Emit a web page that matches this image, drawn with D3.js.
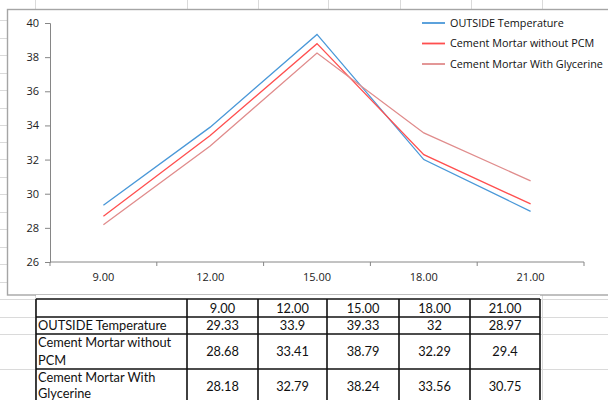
<!DOCTYPE html>
<html>
<head>
<meta charset="utf-8">
<script src="https://cdn.jsdelivr.net/npm/d3@7"></script>
<style>
  html, body { margin: 0; padding: 0; background: #fff; }
  svg { display: block; }
  text { font-family: "Open Sans", Lato, sans-serif; }
</style>
</head>
<body>
<svg id="chart" width="608" height="400"></svg>
<script>
// ---- data ----
const categories = ["9.00", "12.00", "15.00", "18.00", "21.00"];
const seriesNames = ["OUTSIDE Temperature", "Cement Mortar without PCM", "Cement Mortar With Glycerine"];
const outsideTemp = [29.33, 33.9, 39.33, 32, 28.97];
const mortarNoPCM = [28.68, 33.41, 38.79, 32.29, 29.4];
const mortarGlycerine = [28.18, 32.79, 38.24, 33.56, 30.75];
const yTicks = [26, 28, 30, 32, 34, 36, 38, 40];
const tableRowLabels = [["OUTSIDE Temperature"], ["Cement Mortar without", "PCM"], ["Cement Mortar With", "Glycerine"]];

// ---- styles / layout ----
const colors = ["#4a98d8", "#ff4f4f", "#e08c8c"];
const plot = { left: 50, right: 584, top: 23, bottom: 262 };
const axisColor = "#868686";
const gridColor = "#dadada";

const svg = d3.select("#chart");
const values = [outsideTemp, mortarNoPCM, mortarGlycerine];

// ---- faint spreadsheet grid in background ----
const sheetCols = [35, 187, 258, 328, 400, 471, 542];
const sheetRows = [20, 38, 55, 73, 90, 108, 125, 142, 159, 177, 194, 212, 229, 247, 264, 282, 299, 317, 334, 369];
const bg = svg.append("g");
sheetCols.forEach(x => bg.append("line").attr("x1", x + 0.5).attr("x2", x + 0.5).attr("y1", 0).attr("y2", 400)
  .attr("stroke", gridColor).attr("stroke-width", 1));
sheetRows.forEach(y => bg.append("line").attr("x1", 0).attr("x2", 608).attr("y1", y + 0.5).attr("y2", y + 0.5)
  .attr("stroke", gridColor).attr("stroke-width", 1));

// ---- chart box ----
svg.append("rect").attr("x", 7.5).attr("y", 9.5).attr("width", 620).attr("height", 285.5)
  .attr("fill", "#fff").attr("stroke", "#a5a5a5").attr("stroke-width", 1.4);

// ---- scales ----
const x = d3.scalePoint().domain(categories).range([plot.left, plot.right]).padding(0.5);
const xBand = d3.scaleBand().domain(categories).range([plot.left, plot.right]);
const y = d3.scaleLinear().domain([26, 40]).range([plot.bottom, plot.top]);

// y axis
const yAxis = svg.append("g").attr("transform", `translate(${plot.left},0)`)
  .call(d3.axisLeft(y).tickValues(yTicks).tickSize(5).tickPadding(6).tickFormat(d3.format("d")));
yAxis.select(".domain").attr("stroke", axisColor);
yAxis.selectAll(".tick line").attr("stroke", axisColor);
yAxis.selectAll("text").attr("fill", "#222").style("font-size", "11px").style("font-family", "'Open Sans', sans-serif");

// x axis (ticks at band boundaries, labels centered)
const xg = svg.append("g").attr("transform", `translate(0,${plot.bottom})`);
xg.append("line").attr("x1", plot.left).attr("x2", plot.right).attr("y1", 0).attr("y2", 0).attr("stroke", axisColor);
const boundaries = categories.map(c => xBand(c)).concat([xBand.range()[1]]);
xg.selectAll("line.tk").data(boundaries).join("line").attr("class", "tk")
  .attr("x1", d => d).attr("x2", d => d).attr("y1", 0).attr("y2", 4).attr("stroke", axisColor);
xg.selectAll("text").data(categories).join("text")
  .attr("x", d => x(d)).attr("y", 18.5).attr("text-anchor", "middle")
  .attr("fill", "#222").style("font-size", "11px").text(d => d);

// lines
const line = d3.line().x((d, i) => x(categories[i])).y(d => y(d));
values.forEach((vals, k) => {
  svg.append("path").datum(vals).attr("d", line)
    .attr("fill", "none").attr("stroke", colors[k]).attr("stroke-width", 1.3);
});

// legend
const legend = svg.append("g");
seriesNames.forEach((name, k) => {
  const ly = 23 + k * 20.5;
  legend.append("line").attr("x1", 422).attr("x2", 445).attr("y1", ly).attr("y2", ly)
    .attr("stroke", colors[k]).attr("stroke-width", 1.8);
  legend.append("text").attr("x", 450).attr("y", ly + 3.8).attr("fill", "#111")
    .style("font-size", "10.8px").text(name);
});

// ---- data table ----
const colEdges = [36, 187, 258, 327, 399, 470, 540];
const rowEdges = [299, 317, 334, 369, 404];
const tbl = svg.append("g");
tbl.append("rect").attr("x", colEdges[0]).attr("y", rowEdges[0] - 4).attr("width", colEdges[6] - colEdges[0])
  .attr("height", 4).attr("fill", "#fff");
tbl.append("rect").attr("x", colEdges[0]).attr("y", rowEdges[0]).attr("width", colEdges[6] - colEdges[0])
  .attr("height", 110).attr("fill", "#fff");
rowEdges.forEach(yy => tbl.append("line").attr("x1", colEdges[0]).attr("x2", colEdges[6])
  .attr("y1", yy).attr("y2", yy).attr("stroke", "#111").attr("stroke-width", 1.4));
colEdges.forEach(xx => tbl.append("line").attr("x1", xx).attr("x2", xx)
  .attr("y1", rowEdges[0]).attr("y2", 404).attr("stroke", "#111").attr("stroke-width", 1.6));

const cellCenter = i => (colEdges[i + 1] + colEdges[i + 2]) / 2;
const tableFont = "12.8px";
const tableFamily = "Lato, sans-serif";
// header
categories.forEach((c, i) => tbl.append("text").attr("x", cellCenter(i)).attr("y", 313)
  .attr("text-anchor", "middle").attr("fill", "#111").style("font-size", tableFont)
  .style("font-family", tableFamily).text(c));
const labelBaselines = [[330], [347, 365], [382, 398]];
const numBaselines = [330, 356, 391];
tableRowLabels.forEach((lines, r) => {
  lines.forEach((t, j) => tbl.append("text").attr("x", 38).attr("y", labelBaselines[r][j])
    .attr("fill", "#111").style("font-size", tableFont).style("font-family", tableFamily).text(t));
  values[r].forEach((v, i) => tbl.append("text").attr("x", cellCenter(i)).attr("y", numBaselines[r])
    .attr("text-anchor", "middle").attr("fill", "#111").style("font-size", tableFont)
    .style("font-family", tableFamily).text(String(v)));
});
</script>
</body>
</html>
